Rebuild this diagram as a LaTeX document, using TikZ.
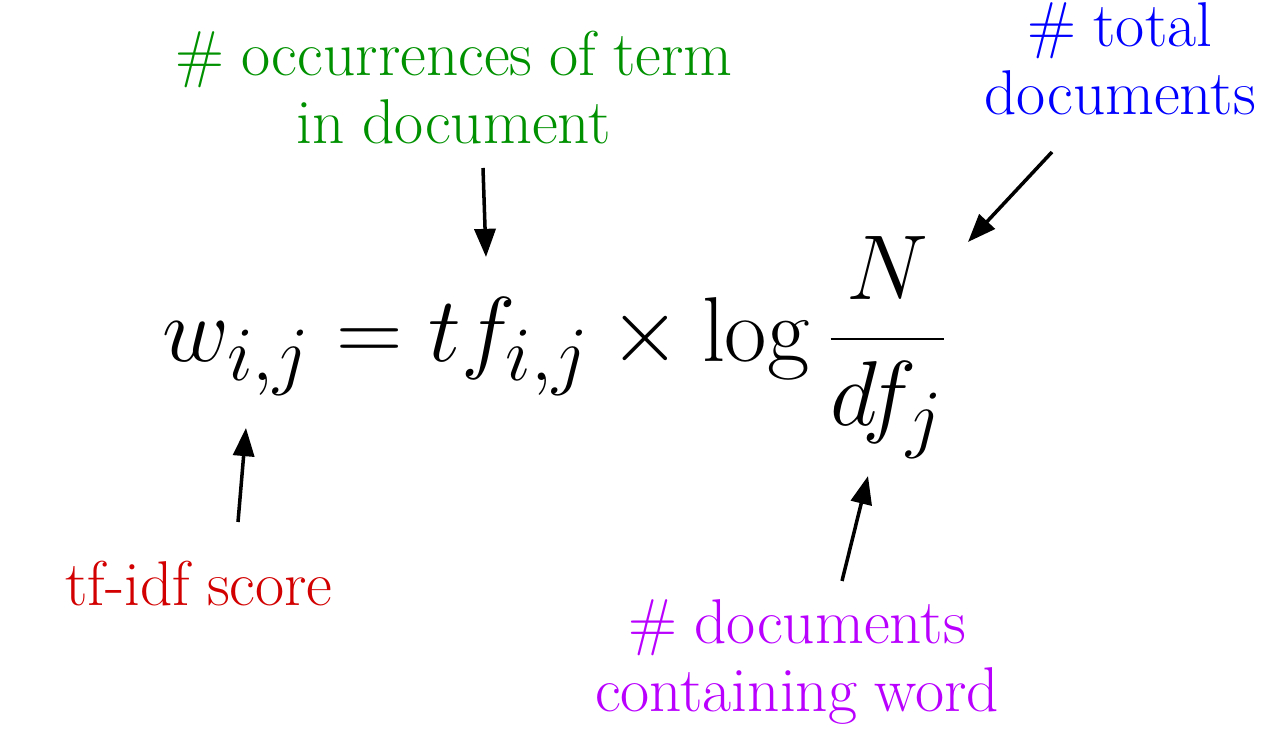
\documentclass[tikz,border=0pt]{standalone}
\usetikzlibrary{arrows.meta}
\definecolor{occgreen}{RGB}{0,145,0}
\definecolor{totblue}{RGB}{0,0,255}
\definecolor{scorered}{RGB}{210,0,0}
\definecolor{docpurple}{RGB}{185,0,255}
\newcommand{\labelfontset}{\fontsize{18}{19.35}\selectfont\spaceskip=0.27em\relax}
\tikzset{
  lab/.style={inner sep=0pt, align=center, anchor=north, font=\labelfontset},
  formula/.style={inner sep=0pt, anchor=base west, font=\fontsize{24.88}{30}\selectfont, scale=1.053, transform shape},
  pointer/.style={line width=1pt, -{Triangle[length=8pt,width=6pt]}}
}
\begin{document}
\begin{tikzpicture}[x=0.01cm,y=-0.01cm]
\useasboundingbox (0,0) rectangle (1278,746);
% formula
\node[formula] (eq) at (162,362) {$\displaystyle w_{i,j} = tf_{i,j} \times \log \frac{N}{df_j}$};
% labels
\node[lab, text=occgreen] (occ) at (454,30) {\# occurrences of term\\in document};
\node[lab, text=totblue] (tot) at (1120,2) {\# total\\documents};
\node[lab, text=scorered] (score) at (199,560) {tf-idf score};
\node[lab, text=docpurple] (docs) at (797,599) {\# documents\\containing word};
% arrow end points
\coordinate (gA) at (483,168);
\coordinate (gB) at (486,257);
\coordinate (bA) at (1052,152);
\coordinate (bB) at (968,242);
\coordinate (rA) at (238,522);
\coordinate (rB) at (246,428);
\coordinate (mA) at (842,581);
\coordinate (mB) at (868,476);
\draw[pointer] (gA) -- (gB);
\draw[pointer] (bA) -- (bB);
\draw[pointer] (rA) -- (rB);
\draw[pointer] (mA) -- (mB);
\end{tikzpicture}
\end{document}
